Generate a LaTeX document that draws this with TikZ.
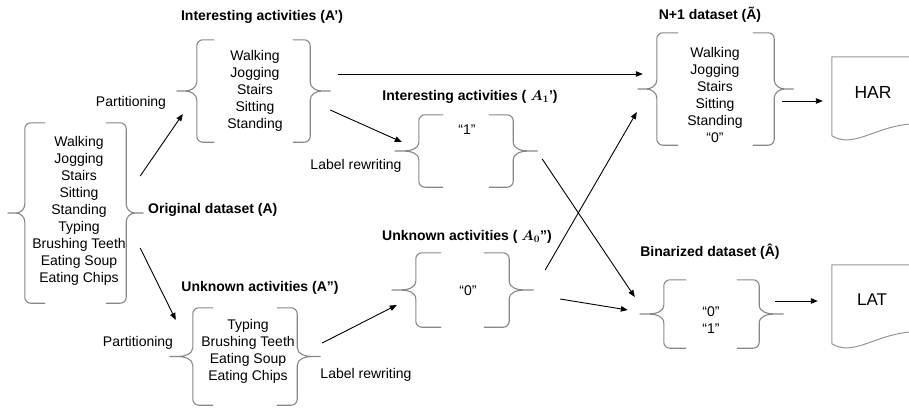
\documentclass[tikz,border=0pt]{standalone}
\usepackage{amsmath}
\usepackage{fontspec}
\setmainfont{Liberation Sans}
\usetikzlibrary{arrows.meta,calc}
\definecolor{braceGray}{RGB}{135,135,135}
\definecolor{docGray}{RGB}{150,150,150}
\newcommand\bracepair[3]{%
 \draw[bracestyle] let \p1=(#1.north west), \p2=(#1.south east), \n1={0.5*(\y1+\y2)} in
 ({\x1+#2+#3},\y1) -- ({\x1+#2+6pt},\y1) to[out=180,in=90] ({\x1+#2},{\y1-6pt})
   -- ({\x1+#2},{\n1+9pt}) to[out=-90,in=0] ({\x1+8pt},\n1) -- (\x1,\n1)
 ({\x1+8pt},\n1) to[out=0,in=90] ({\x1+#2},{\n1-9pt}) -- ({\x1+#2},{\y2+6pt})
   to[out=-90,in=180] ({\x1+#2+6pt},\y2) -- ({\x1+#2+#3},\y2)
 ({\x2-#2-#3},\y1) -- ({\x2-#2-6pt},\y1) to[out=0,in=90] ({\x2-#2},{\y1-6pt})
   -- ({\x2-#2},{\n1+9pt}) to[out=-90,in=180] ({\x2-8pt},\n1) -- (\x2,\n1)
 ({\x2-8pt},\n1) to[out=180,in=90] ({\x2-#2},{\n1-9pt}) -- ({\x2-#2},{\y2+6pt})
   to[out=-90,in=0] ({\x2-#2-6pt},\y2) -- ({\x2-#2-#3},\y2);}
\newcommand\docoutline[1]{%
 \draw[docstyle] let \p1=(#1.north west) in
 ({\x1+100pt},\y1) -- (\x1,\y1) -- (\x1,{\y1-79pt})
 .. controls ({\x1+22pt},{\y1-92pt}) and ({\x1+42pt},{\y1-70pt}) .. ({\x1+80pt},{\y1-67pt})
 -- ({\x1+100pt},{\y1-66pt});}
\begin{document}
\begin{tikzpicture}[x=1pt,y=-1pt,
 bracestyle/.style={draw=braceGray, line width=1.1pt, line join=round, line cap=round},
 docstyle/.style={draw=docGray, line width=1pt},
 arr/.style={-{Triangle[length=7pt,width=5.5pt]}, line width=0.9pt},
 lst/.style={align=center, font=\fontsize{14}{17}\selectfont, inner sep=0pt},
 ttl/.style={font=\fontsize{14}{17}\selectfont\bfseries, inner sep=0pt},
 lbl/.style={font=\fontsize{14}{17}\selectfont, inner sep=0pt},
 grp/.style 2 args={minimum width=#1pt, minimum height=#2pt, inner sep=0pt},
 docnode/.style 2 args={minimum width=#1pt, minimum height=70pt, inner sep=0pt, font=\fontsize{#2}{20}\selectfont}
]
\useasboundingbox (0,0) rectangle (909,410);
\clip (0,0) rectangle (909,410);

% groups (braces)
\node[grp={135}{180}] (orig) at (75.5,213) {};
\node[grp={153}{102}] (ap) at (253.5,91) {};
\node[grp={142}{72}] (aone) at (466,151) {};
\node[grp={150}{97}] (app) at (245,356.5) {};
\node[grp={141}{74}] (azero) at (462.5,290) {};
\node[grp={155}{112}] (np) at (715.5,89) {};
\node[grp={143}{68}] (bin) at (711.5,314) {};

\bracepair{orig}{17pt}{20pt}
\bracepair{ap}{20pt}{17pt}
\bracepair{aone}{24pt}{24pt}
\bracepair{app}{23pt}{20pt}
\bracepair{azero}{24pt}{25pt}
\bracepair{np}{19pt}{21pt}
\bracepair{bin}{24pt}{22pt}

% list texts
\node[lst] (origtxt) at (79,210.5) {Walking\\Jogging\\Stairs\\Sitting\\Standing\\Typing\\Brushing Teeth\\Eating Soup\\Eating Chips};
\node[lst] (aptxt) at (255,91) {Walking\\Jogging\\Stairs\\Sitting\\Standing};
\node[lst] (aonetxt) at (467,130) {“1”};
\node[lst] (apptxt) at (248,351) {Typing\\Brushing Teeth\\Eating Soup\\Eating Chips};
\node[lst] (azerotxt) at (468,291) {“0”};
\node[lst] (nptxt) at (715,94.5) {Walking\\Jogging\\Stairs\\Sitting\\Standing\\“0”};
\node[lst] (bintxt) at (711,320.5) {“0”\\“1”};

% titles
\node[ttl, anchor=west] (origttl) at (148,210) {Original dataset (A)};
\node[ttl] (apttl) at (262,17) {Interesting activities (A’)};
\node[ttl] (aonettl) at (470,97) {Interesting activities ( $\boldsymbol{A}_{\boldsymbol{1}}$’)};
\node[ttl] (appttl) at (260,288) {Unknown activities (A”)};
\node[ttl] (azerottl) at (467,237) {Unknown activities ( $\boldsymbol{A}_{\boldsymbol{0}}$”)};
\node[ttl] (npttl) at (710,15) {N+1 dataset (Ã)};
\node[ttl] (binttl) at (710,252) {Binarized dataset (Â)};

% labels
\node[lbl] (part1) at (131,103) {Partitioning};
\node[lbl] (part2) at (138,343) {Partitioning};
\node[lbl] (rew1) at (356,166) {Label rewriting};
\node[lbl] (rew2) at (366,375) {Label rewriting};

% documents
\node[docnode={82}{17.5}] (har) at (873,92) {HAR};
\node[docnode={80}{17}] (lat) at (872,300) {LAT};
\docoutline{har}
\docoutline{lat}

% arrows
\draw[arr] ([shift={(-3,-37)}]orig.east) -- ([shift={(6,23)}]ap.west);
\draw[arr] ([shift={(-3,35)}]orig.east) -- ([shift={(6,-36.5)}]app.west);
\draw[arr] ([shift={(8,-17)}]ap.east) -- ([shift={(5,-15)}]np.west);
\draw[arr] ([shift={(0,19)}]ap.east) -- ([shift={(7,-9)}]aone.west);
\draw[arr] ([shift={(2,-13.5)}]app.east) -- ([shift={(5,15)}]azero.west);
\draw[arr] ([shift={(12,-20)}]azero.east) -- ([shift={(-1,23)}]np.west);
\draw[arr] ([shift={(5,8)}]aone.east) -- ([shift={(-5,-17)}]bin.west);
\draw[arr] ([shift={(27,9)}]azero.east) -- ([shift={(-12,-4)}]bin.west);
\draw[arr] ([shift={(-11,12)}]np.east) -- ([shift={(-9,9)}]har.west);
\draw[arr] ([shift={(-8,-13)}]bin.east) -- ([shift={(-14,1)}]lat.west);
\end{tikzpicture}
\end{document}
